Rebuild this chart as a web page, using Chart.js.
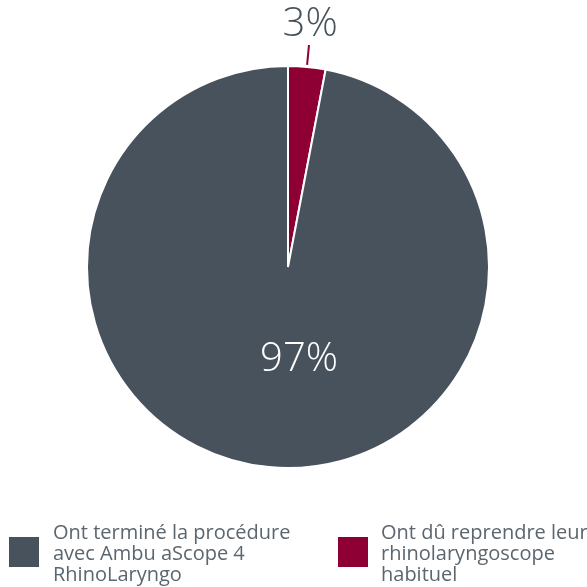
<!DOCTYPE html>
<html>
<head>
<meta charset="utf-8">
<script src="https://cdn.jsdelivr.net/npm/chart.js@4"></script>
<style>
  body { margin: 0; background: #fff; }
  #wrap { position: relative; width: 587px; height: 587px; }
  #chart { position: absolute; left: 0; top: 0; }
  .leg { position: absolute; font-family: 'Open Sans', sans-serif; font-size: 20px; line-height: 21px; color: #5b666f; white-space: nowrap; }
  .sw { position: absolute; width: 30px; height: 30px; }
</style>
</head>
<body>
<div id="wrap">
  <canvas id="chart" width="587" height="587"></canvas>
  <div class="sw" style="left:9px;top:537px;background:#47525c"></div>
  <div class="leg" id="leg0" style="left:53px;top:521px"></div>
  <div class="sw" style="left:338px;top:537px;background:#8e0033"></div>
  <div class="leg" id="leg1" style="left:381px;top:521px"></div>
</div>
<script>
// data
const categories = ['Ont dû reprendre leur rhinolaryngoscope habituel', 'Ont terminé la procédure avec Ambu aScope 4 RhinoLaryngo'];
const values = [3, 97];
const valueLabels = ['3%', '97%'];
const colors = ['#8e0033', '#47525c'];
const legendLines = [
  ['Ont terminé la procédure', 'avec Ambu aScope 4', 'RhinoLaryngo'],
  ['Ont dû reprendre leur', 'rhinolaryngoscope', 'habituel']
];

document.getElementById('leg0').innerHTML = legendLines[0].join('<br>');
document.getElementById('leg1').innerHTML = legendLines[1].join('<br>');

// slice labels
const sliceLabels = {
  id: 'sliceLabels',
  afterDatasetsDraw(chart) {
    const ctx = chart.ctx;
    const arcs = chart.getDatasetMeta(0).data;
    ctx.save();
    ctx.textAlign = 'center';
    ctx.textBaseline = 'middle';

    // small slice: label outside with a leader line
    let a = arcs[0];
    let mid = (a.startAngle + a.endAngle) / 2;
    let r = a.outerRadius;
    ctx.strokeStyle = colors[0];
    ctx.lineWidth = 2;
    ctx.beginPath();
    ctx.moveTo(a.x + Math.cos(mid) * (r + 2), a.y + Math.sin(mid) * (r + 2));
    ctx.lineTo(a.x + Math.cos(mid) * (r + 22), a.y + Math.sin(mid) * (r + 22));
    ctx.stroke();
    ctx.fillStyle = '#47525c';
    ctx.font = '300 40px "Open Sans", sans-serif';
    ctx.fillText(valueLabels[0], a.x + Math.cos(mid) * (r + 45) - 1, a.y + Math.sin(mid) * (r + 45) + 3);

    // big slice: label inside
    a = arcs[1];
    ctx.fillStyle = '#ffffff';
    ctx.font = '300 40px "Open Sans", sans-serif';
    ctx.fillText(valueLabels[1], a.x + a.outerRadius * 0.055, a.y + a.outerRadius * 0.46);
    ctx.restore();
  }
};

new Chart(document.getElementById('chart'), {
  type: 'pie',
  data: {
    labels: categories,
    datasets: [{
      data: values,
      backgroundColor: colors,
      borderColor: '#ffffff',
      borderWidth: 2
    }]
  },
  options: {
    responsive: false,
    animation: false,
    layout: { padding: { left: 84, right: 95, top: 65, bottom: 118 } },
    plugins: {
      legend: { display: false },
      tooltip: { enabled: false }
    }
  },
  plugins: [sliceLabels]
});
</script>
</body>
</html>
